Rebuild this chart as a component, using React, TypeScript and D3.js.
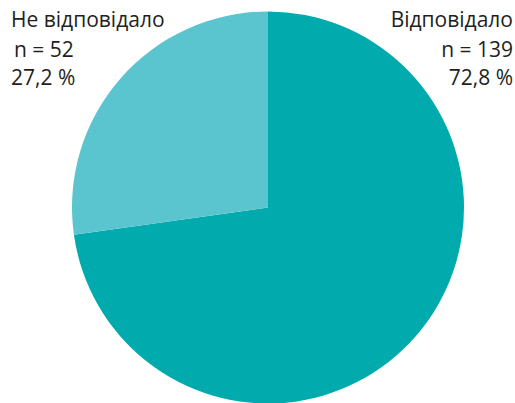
import React from "react";
import * as d3 from "d3";

const categories = ["Відповідало", "Не відповідало"];
const counts = [139, 52];
const percentLabels = ["72,8 %", "27,2 %"];
const colors = ["#00aaad", "#5ac5cf"];

const W = 515;
const H = 403;

export default function App() {
  const cx = 268;
  const cy = 207.5;
  const r = 196;
  const pie = d3.pie<number>().sort(null).value((d) => d);
  const arcs = pie(counts);
  const arc = d3.arc<d3.PieArcDatum<number>>().innerRadius(0).outerRadius(r);
  const font = "'Open Sans', sans-serif";
  const fs = 21;
  const lines = [27, 56.5, 85];
  return (
    <svg width={W} height={H} style={{ position: "absolute", left: 0, top: 0 }}>
      <g transform={`translate(${cx},${cy})`}>
        {arcs.map((a, i) => (
          <path key={i} d={arc(a) || ""} fill={colors[i]} />
        ))}
      </g>
      <g fontFamily={font} fontSize={fs} fill="#231f20">
        <text x={513} y={lines[0]} textAnchor="end">{categories[0]}</text>
        <text x={513} y={lines[1]} textAnchor="end">{`n = ${counts[0]}`}</text>
        <text x={513} y={lines[2]} textAnchor="end">{percentLabels[0]}</text>
        <text x={11} y={lines[0]}>{categories[1]}</text>
        <text x={14} y={lines[1]}>{`n = ${counts[1]}`}</text>
        <text x={11} y={lines[2]}>{percentLabels[1]}</text>
      </g>
    </svg>
  );
}
